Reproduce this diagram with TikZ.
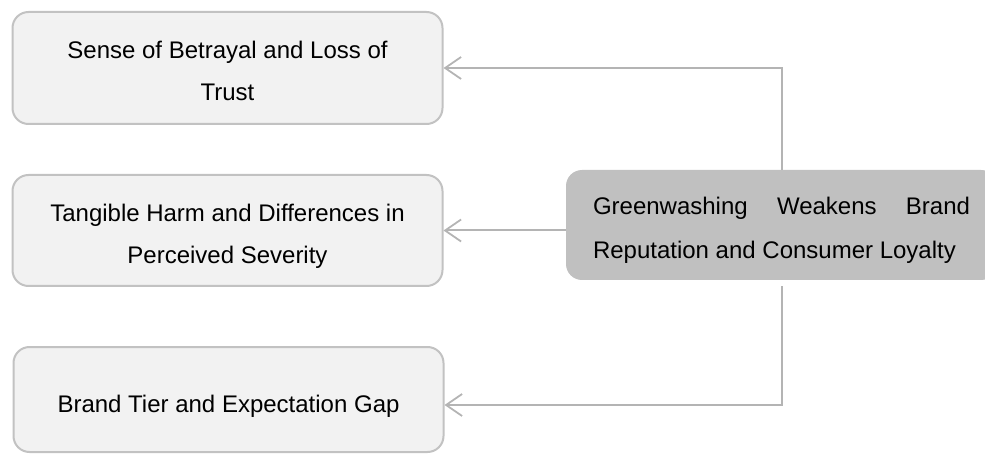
\documentclass[tikz,border=0pt]{standalone}
\usepackage{fontspec}
\setmainfont{Liberation Sans}
\usetikzlibrary{arrows.meta}
\definecolor{boxfill}{HTML}{F2F2F2}
\definecolor{boxline}{HTML}{C2C2C2}
\definecolor{hubfill}{HTML}{C0C0C0}
\definecolor{linkline}{HTML}{B4B4B4}
% no hyphenation inside the boxes
\newcommand\nobreakwords{\hyphenpenalty 10000\relax}
\begin{document}
\begin{tikzpicture}[x=1pt,y=-1pt,
  every node/.style={inner sep=0pt},
  leafbox/.style={draw=boxline, line width=2pt, fill=boxfill, rounded corners=16pt,
    minimum width=430pt, text width=370pt, align=flush center,
    font=\fontsize{24}{42}\selectfont\nobreakwords},
  hubbox/.style={fill=hubfill, rounded corners=16pt, minimum width=431pt,
    text width=377pt, align=justify, text height=45pt, text depth=65pt,
    font=\fontsize{24}{44}\selectfont\nobreakwords},
  link/.style={draw=linkline, line width=2pt,
    -{Straight Barb[length=16pt,width=22pt,line width=1.8pt]}}
]
\useasboundingbox (0,0) rectangle (985,454);

% three outcome boxes on the left (first baseline set through text height)
\node[leafbox, text height=47pt, text depth=65pt] (b1) at (227.5,68)
  {Sense of Betrayal and Loss of Trust};
\node[leafbox, text height=47pt, text depth=64pt] (b2) at (227.5,230.5)
  {Tangible Harm and Differences in Perceived Severity};
\node[leafbox, text height=65pt, text depth=40pt] (b3) at (228.5,399.5)
  {Brand Tier and Expectation Gap};

% central statement on the right
\node[hubbox] (hub) at (781.5,225)
  {Greenwashing Weakens Brand Reputation and Consumer Loyalty};

% connectors from the statement to each box
\draw[link] (hub.north) |- (b1.east);
\draw[link] (hub.west |- b2.east) -- (b2.east);
\draw[link] ([yshift=-6pt]hub.south) |- ([yshift=-5.5pt]b3.east);
\end{tikzpicture}
\end{document}
